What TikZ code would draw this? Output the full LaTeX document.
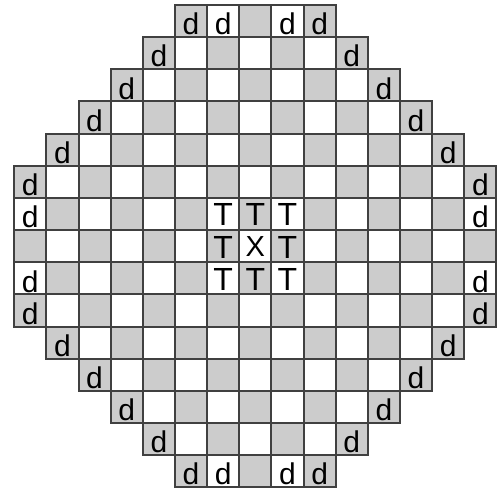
\documentclass[tikz,border=0pt]{standalone}
\usepackage{fontspec}
\setmainfont{Liberation Sans}
\definecolor{cellgray}{HTML}{CCCCCC}
\definecolor{gridline}{HTML}{404040}
\tikzset{
  cellbox/.style={draw=gridline, line width=2pt, minimum width=32.15pt, minimum height=32.15pt, inner sep=0pt, outer sep=0pt, shape=rectangle},
  dlabel/.style={inner sep=0pt, font=\fontsize{30}{30}\selectfont, text=black},
  tlabel/.style={inner sep=0pt, font=\fontsize{32}{32}\selectfont, text=black},
  xlabel/.style={inner sep=0pt, font=\fontsize{29}{29}\selectfont, text=black}
}
\begin{document}
\begin{tikzpicture}[x=1pt,y=-1pt]
\useasboundingbox (0,0) rectangle (503,488);
\foreach \r in {0,...,14} {
  \pgfmathtruncatemacro\s{max(0,abs(\r-7)-2)}
  \pgfmathtruncatemacro\e{14-\s}
  \foreach \c in {\s,...,\e} {
    \pgfmathtruncatemacro\odd{mod(\r+\c,2)}
    \ifnum\odd=1 \def\fc{cellgray}\else\def\fc{white}\fi
    \node[cellbox, fill=\fc] (c-\r-\c) at ({14.2+32.15*(\c+0.5)}, {5.0+32.15*(\r+0.5)}) {};
  }
}
% d labels
\foreach \r/\c in {0/5,0/6,0/8,0/9,1/4,1/10,2/3,2/11,3/2,3/12,4/1,4/13,5/0,5/14,6/0,6/14,8/0,8/14,9/0,9/14,10/1,10/13,11/2,11/12,12/3,12/11,13/4,13/10,14/5,14/6,14/8,14/9} {
  \node[dlabel] (d-\r-\c) at ([yshift=-3pt]c-\r-\c.center) {d};
}
% T labels
\foreach \r/\c in {6/6,6/7,6/8,7/6,7/8,8/6,8/7,8/8} {
  \node[tlabel] (t-\r-\c) at ([yshift=-1pt]c-\r-\c.center) {T};
}
\node[xlabel] (x-7-7) at (c-7-7.center) {X};
\end{tikzpicture}
\end{document}
